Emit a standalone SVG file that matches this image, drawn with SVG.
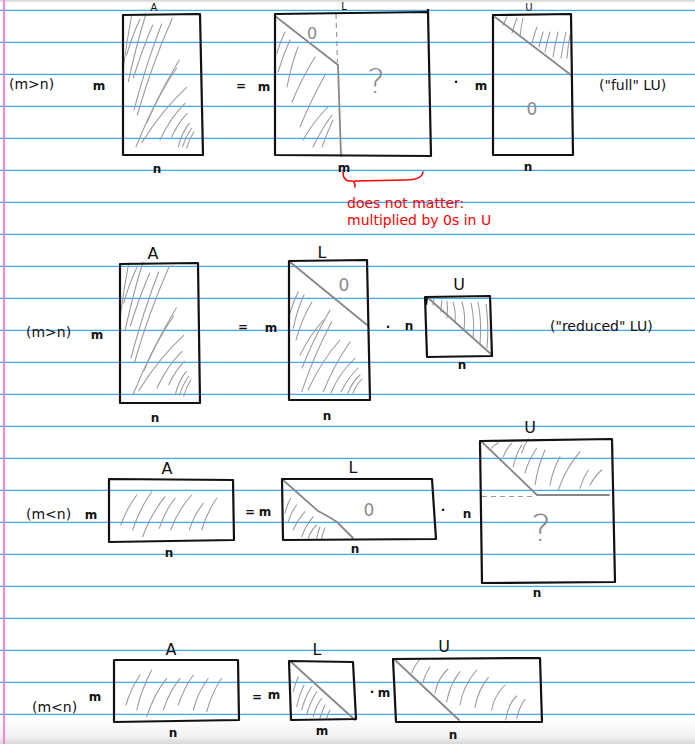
<svg xmlns="http://www.w3.org/2000/svg" width="695" height="744" viewBox="0 0 695 744">
<defs>
<style>
.rule{stroke:#47a6ff;stroke-width:1.3}
.margin{stroke:#ff6ad5;stroke-width:1.6}
.box{fill:none;stroke:#111;stroke-width:2.2;stroke-linejoin:round}
.diag{fill:none;stroke:#888;stroke-width:1.8;stroke-linecap:round}
.dash{fill:none;stroke:#999;stroke-width:1.2;stroke-dasharray:5 4}
.hatch{fill:none;stroke:#999;stroke-width:1.05;stroke-linecap:round}
.hw{font-family:"DejaVu Sans",sans-serif;fill:#111}
.dim{font-size:12px;font-weight:bold;text-anchor:middle}
.name{font-size:16px;text-anchor:middle}
.top{font-size:10px;text-anchor:middle}
.cond{font-size:14px}
.gz{font-family:"DejaVu Sans",sans-serif;fill:#8a8a8a;text-anchor:middle}
.note{font-family:"DejaVu Sans",sans-serif;font-size:14px;fill:#111}
.red{font-family:"DejaVu Sans",sans-serif;font-size:14px;fill:#ff0000}
</style>
<linearGradient id="bot" x1="0" y1="0" x2="0" y2="1">
<stop offset="0" stop-color="#ffffff"/>
<stop offset="0.7" stop-color="#f1f1f1"/>
<stop offset="1" stop-color="#d8d8d8"/>
</linearGradient>
<linearGradient id="topg" x1="0" y1="0" x2="0" y2="1">
<stop offset="0" stop-color="#d0d0d0"/>
<stop offset="1" stop-color="#ffffff"/>
</linearGradient>
<g id="hatchA1">
<path class="hatch" d="M123.5,66.7 Q127,40 131.7,15"/>
<path class="hatch" d="M126.7,55 Q132,36 140,19.3"/>
<path class="hatch" d="M128.3,81.7 Q136,46 146,14"/>
<path class="hatch" d="M133.3,78 Q142,50 152.7,25"/>
<path class="hatch" d="M134,110 Q146,64 161.7,24"/>
<path class="hatch" d="M137.3,115 Q152,64 172.3,18.3"/>
<path class="hatch" d="M136,146.7 Q155,100 179.3,60"/>
<path class="hatch" d="M146.7,123 Q160,92 176.7,68"/>
<path class="hatch" d="M141.7,142.7 Q162,110 186.7,87.3"/>
<path class="hatch" d="M160,140 Q170,118 185,103.3"/>
<path class="hatch" d="M171.7,136.7 Q178,123 187.3,113.3"/>
<path class="hatch" d="M178.3,146.7 Q182,132 189.3,123.3"/>
<path class="hatch" d="M182.7,146.7 Q186,136 191.7,128.3"/>
<path class="hatch" d="M186.7,148.3 Q189,139 194,131.7"/>
</g>
</defs>

<!-- paper -->
<rect x="0" y="0" width="695" height="744" fill="#ffffff"/>
<rect x="0" y="0" width="695" height="3" fill="url(#topg)"/>
<rect x="0" y="719" width="695" height="25" fill="url(#bot)"/>
<g id="ruling">
<line class="rule" x1="0" y1="10.3" x2="695" y2="10.3"/>
<line class="rule" x1="0" y1="42.3" x2="695" y2="42.3"/>
<line class="rule" x1="0" y1="74.3" x2="695" y2="74.3"/>
<line class="rule" x1="0" y1="106.3" x2="695" y2="106.3"/>
<line class="rule" x1="0" y1="138.3" x2="695" y2="138.3"/>
<line class="rule" x1="0" y1="170.3" x2="695" y2="170.3"/>
<line class="rule" x1="0" y1="202.3" x2="695" y2="202.3"/>
<line class="rule" x1="0" y1="234.3" x2="695" y2="234.3"/>
<line class="rule" x1="0" y1="266.3" x2="695" y2="266.3"/>
<line class="rule" x1="0" y1="298.3" x2="695" y2="298.3"/>
<line class="rule" x1="0" y1="330.3" x2="695" y2="330.3"/>
<line class="rule" x1="0" y1="362.3" x2="695" y2="362.3"/>
<line class="rule" x1="0" y1="394.3" x2="695" y2="394.3"/>
<line class="rule" x1="0" y1="426.3" x2="695" y2="426.3"/>
<line class="rule" x1="0" y1="458.3" x2="695" y2="458.3"/>
<line class="rule" x1="0" y1="490.3" x2="695" y2="490.3"/>
<line class="rule" x1="0" y1="522.3" x2="695" y2="522.3"/>
<line class="rule" x1="0" y1="554.3" x2="695" y2="554.3"/>
<line class="rule" x1="0" y1="586.3" x2="695" y2="586.3"/>
<line class="rule" x1="0" y1="618.3" x2="695" y2="618.3"/>
<line class="rule" x1="0" y1="650.3" x2="695" y2="650.3"/>
<line class="rule" x1="0" y1="682.3" x2="695" y2="682.3"/>
<line class="rule" x1="0" y1="714.3" x2="695" y2="714.3"/>
<line class="margin" x1="4" y1="0" x2="4" y2="744"/>
</g>

<!-- ===== Row 1: m>n full LU ===== -->
<g id="r1-labels" class="hw">
<text class="cond" x="9" y="89" font-size="15">(m&gt;n)</text>
<text class="dim" x="99" y="90">m</text>
<text class="dim" x="241" y="90" font-weight="normal">=</text>
<text class="dim" x="264" y="91">m</text>
<text class="dim" x="456" y="86">·</text>
<text class="dim" x="481" y="90">m</text>
</g>
<g id="r1-A">
<use href="#hatchA1"/>
<polygon class="box" points="123,15 200,14 203,155 123,155"/>
<text class="hw top" x="154" y="11">A</text>
<text class="hw dim" x="157" y="173">n</text>
</g>
<g id="r1-L">
<path class="hatch" d="M277,53 Q280,42 285,32"/>
<path class="hatch" d="M278,72 Q283,55 290,40"/>
<path class="hatch" d="M287,87 Q291,66 298,47"/>
<path class="hatch" d="M292,102 Q302,78 315,57"/>
<path class="hatch" d="M300,127 Q311,100 325,75"/>
<path class="hatch" d="M303,140 Q313,122 328,107"/>
<path class="hatch" d="M313,147 Q321,130 332,115"/>
<path class="hatch" d="M322,147 Q327,133 333,120"/>
<polyline class="diag" points="275,16 338,65 341,156"/>
<line class="dash" x1="336" y1="14" x2="337.5" y2="63"/>
<polygon class="box" points="275,14 428,12 431,156 275,155"/>
<line class="box" x1="428" y1="9" x2="428" y2="14"/>
<text class="gz" x="312" y="39" font-size="16">0</text>
<text class="gz" x="376" y="93" font-size="34" font-weight="200">?</text>
<text class="hw top" x="344" y="10">L</text>
<text class="hw dim" x="344" y="172">m</text>
</g>
<g id="r1-U">
<path class="hatch" d="M503,25 Q505,21 507,17"/>
<path class="hatch" d="M512,33 Q514,25 517,18"/>
<path class="hatch" d="M520,37 Q521,27 523,18"/>
<path class="hatch" d="M532,43 Q534,35 537,27"/>
<path class="hatch" d="M539,47 Q541,39 543,32"/>
<path class="hatch" d="M545,52 Q547,42 550,32"/>
<path class="hatch" d="M553,57 Q555,44 558,32"/>
<path class="hatch" d="M561,58 Q563,45 566,32"/>
<path class="hatch" d="M567,58 Q568,46 570,35"/>
<line class="diag" x1="495" y1="17" x2="571" y2="75"/>
<polygon class="box" points="493,15 571,14 573,155 493,155"/>
<text class="gz" x="532" y="115" font-size="17">0</text>
<text class="hw top" x="529" y="11">U</text>
<text class="hw dim" x="528" y="171">n</text>
</g>
<g id="r1-note">
<text class="note" x="599" y="90">("full" LU)</text>
</g>
<g id="annotations">
<path d="M343,172 Q343,181 350,181 L352,181 Q355,181 355,187 M355,181 L405,180 Q422,180 423,172" fill="none" stroke="#ff0000" stroke-width="1.6" stroke-linecap="round"/>
<text class="red" x="347" y="208">does not matter:</text>
<text class="red" x="347" y="225">multiplied by 0s in U</text>
</g>

<!-- ===== Row 2: m>n reduced LU ===== -->
<g id="r2-labels" class="hw">
<text class="cond" x="26" y="337" font-size="13">(m&gt;n)</text>
<text class="dim" x="97" y="339">m</text>
<text class="dim" x="243" y="331" font-weight="normal">=</text>
<text class="dim" x="271" y="332">m</text>
<text class="dim" x="388" y="331">·</text>
<text class="dim" x="409" y="330">n</text>
</g>
<g id="r2-A">
<use href="#hatchA1" transform="translate(-3,248)"/>
<polygon class="box" points="120,264 198,263 200,403 120,403"/>
<text class="hw name" x="153" y="259" font-size="17">A</text>
<text class="hw dim" x="155" y="422">n</text>
</g>
<g id="r2-L">
<path class="hatch" d="M290,313 Q293,302 298.3,291.7"/>
<path class="hatch" d="M293.3,328.3 Q297,310 304,295"/>
<path class="hatch" d="M296,340 Q302,318 312,302"/>
<path class="hatch" d="M300,355 Q310,335 323.3,320"/>
<path class="hatch" d="M302,368 Q313,340 330,310"/>
<path class="hatch" d="M301.7,391.7 Q314,355 331.7,321.7"/>
<path class="hatch" d="M308,390 Q322,360 340,340"/>
<path class="hatch" d="M323.3,391.7 Q334,365 350,341.7"/>
<path class="hatch" d="M331,393 Q338,375 355,358"/>
<path class="hatch" d="M341,392 Q348,378 358,368"/>
<path class="hatch" d="M348,393 Q352,382 360,375"/>
<path class="hatch" d="M353,393 Q356,385 362,379"/>
<line class="diag" x1="290" y1="262" x2="367" y2="325"/>
<polygon class="box" points="289,261 367,260 370,400 289,400"/>
<text class="gz" x="344" y="291" font-size="17">0</text>
<text class="hw name" x="322" y="258" font-size="15">L</text>
<text class="hw dim" x="327" y="420">n</text>
</g>
<g id="r2-U">
<path class="hatch" d="M433,305 Q433,302 434,299"/>
<path class="hatch" d="M441,312 Q441,306 442,300"/>
<path class="hatch" d="M447,318 Q448,309 447,301"/>
<path class="hatch" d="M455,322 Q456,311 453,302"/>
<path class="hatch" d="M464,330 Q466,315 462,302"/>
<path class="hatch" d="M473,338 Q475,320 471,303"/>
<path class="hatch" d="M480,344 Q482,322 478,302"/>
<path class="hatch" d="M487,348 Q489,326 486,304"/>
<line class="diag" x1="427" y1="297" x2="492" y2="355"/>
<polygon class="box" points="425,297 490,296 492,356 427,357"/>
<line class="box" x1="427" y1="297" x2="426" y2="305"/>
<text class="hw name" x="459" y="290" font-size="15">U</text>
<text class="hw dim" x="462" y="369">n</text>
</g>
<g id="r2-note">
<text class="note" x="550" y="331">("reduced" LU)</text>
</g>

<!-- ===== Row 3: m<n ===== -->
<g id="r3-labels" class="hw">
<text class="cond" x="26" y="519" font-size="15">(m&lt;n)</text>
<text class="dim" x="91" y="519" font-size="11">m</text>
<text class="dim" x="250" y="516" font-weight="normal">=</text>
<text class="dim" x="265" y="516">m</text>
<text class="dim" x="443" y="514">·</text>
<text class="dim" x="467" y="518">n</text>
</g>
<g id="r3-A">
<path class="hatch" d="M120.7,525 Q127,508 136.7,495"/>
<path class="hatch" d="M132.7,530 Q140,508 151.7,491.7"/>
<path class="hatch" d="M142.7,536.7 Q151,514 165,496.7"/>
<path class="hatch" d="M159.3,528.3 Q165,511 175,498.3"/>
<path class="hatch" d="M170.7,530 Q178,510 191.7,495"/>
<path class="hatch" d="M189.3,530 Q194,515 203.3,503.3"/>
<path class="hatch" d="M201.7,530 Q207,512 216.7,498.3"/>
<polygon class="box" points="109,479 233,480 234,540 109,542"/>
<text class="hw name" x="167" y="474" font-size="17">A</text>
<text class="hw dim" x="169" y="557">n</text>
</g>
<g id="r3-L">
<path class="hatch" d="M285,513.3 Q287,505 290.7,498.3"/>
<path class="hatch" d="M288.3,521.7 Q291,512 296.7,505"/>
<path class="hatch" d="M293.3,530 Q298,519 305,511.7"/>
<path class="hatch" d="M301.7,536.7 Q306,525 313.3,516.7"/>
<path class="hatch" d="M308.3,538.3 Q311,530 316.7,525"/>
<path class="hatch" d="M316.7,538.3 Q318,532 320,526.7"/>
<path class="hatch" d="M321.7,538.3 Q323,532 325,527.7"/>
<path class="diag" d="M283,480 L318,511 Q326,515 337,522 L353,538"/>
<polygon class="box" points="282,479 432,479 436,539 283,540"/>
<text class="gz" x="369" y="516" font-size="17">0</text>
<text class="hw name" x="353" y="473" font-size="15">L</text>
<text class="hw dim" x="355" y="553">n</text>
</g>
<g id="r3-U">
<path class="hatch" d="M491.7,448.3 Q494,445 498.3,442.7"/>
<path class="hatch" d="M503.3,456.7 Q506,449 511.7,443.3"/>
<path class="hatch" d="M513.3,466.7 Q516,454 521.7,445"/>
<path class="hatch" d="M521.7,453 Q524,445 528.3,439"/>
<path class="hatch" d="M525,473 Q529,459 536.7,448.3"/>
<path class="hatch" d="M535,485 Q538,466 545,450"/>
<path class="hatch" d="M550,485 Q553,469 560,456.7"/>
<path class="hatch" d="M558.3,490 Q566,468 580,451.7"/>
<path class="hatch" d="M580,488.3 Q583,478 588.3,470"/>
<path class="hatch" d="M590,485 Q595,476 601.7,470"/>
<polyline class="diag" points="482,442 537,495 609,495"/>
<line class="dash" x1="482" y1="496.5" x2="535" y2="496.5" stroke-dasharray="4 3"/>
<polygon class="box" points="480,441 612,439 615,582 482,583"/>
<text class="gz" x="541" y="541" font-size="38" font-weight="200">?</text>
<text class="hw name" x="530" y="433" font-size="14">U</text>
<text class="hw dim" x="537" y="597">n</text>
</g>

<!-- ===== Row 4: m<n ===== -->
<g id="r4-labels" class="hw">
<text class="cond" x="32" y="712" font-size="15">(m&lt;n)</text>
<text class="dim" x="95" y="701" font-size="10">m</text>
<text class="dim" x="257" y="701" font-weight="normal">=</text>
<text class="dim" x="274" y="699">m</text>
<text class="dim" x="372" y="696">·</text>
<text class="dim" x="384" y="697" font-size="10">m</text>
</g>
<g id="r4-A">
<path class="hatch" d="M126,705 Q131,688 140,675"/>
<path class="hatch" d="M136.7,710 Q142,688 151.7,670"/>
<path class="hatch" d="M146.7,716.7 Q154,694 166.7,678.3"/>
<path class="hatch" d="M163.3,710 Q169,692 180,678.3"/>
<path class="hatch" d="M178.3,705 Q184,688 193.3,675"/>
<path class="hatch" d="M193.3,710 Q198,692 208.3,678.3"/>
<path class="hatch" d="M206.7,711.7 Q212,692 221.7,678.3"/>
<polygon class="box" points="114,660 238,660 239,720 114,722"/>
<text class="hw name" x="171" y="655" font-size="17">A</text>
<text class="hw dim" x="173" y="737">n</text>
</g>
<g id="r4-L">
<path class="hatch" d="M293.3,691.7 Q295,684 298.3,676.7"/>
<path class="hatch" d="M296.7,706.7 Q299,695 304,685"/>
<path class="hatch" d="M301.7,710 Q305,697 311.7,686.7"/>
<path class="hatch" d="M306.7,715 Q310,702 316.7,691.7"/>
<path class="hatch" d="M313.3,716.7 Q316,706 321.7,698.3"/>
<path class="hatch" d="M320,718 Q322,711 325,705"/>
<path class="hatch" d="M326.7,718 Q328,713 330,710"/>
<line class="diag" x1="290" y1="661" x2="355" y2="720"/>
<polygon class="box" points="289,661 353,662 356,719 291,720"/>
<text class="hw name" x="317" y="655" font-size="15">L</text>
<text class="hw dim" x="322" y="735">m</text>
</g>
<g id="r4-U">
<path class="hatch" d="M411.7,673 Q414,666 419.3,660"/>
<path class="hatch" d="M423,683 Q425,674 430,667"/>
<path class="hatch" d="M435,693 Q438,678 448,669"/>
<path class="hatch" d="M446.7,701.7 Q450,684 460,671.7"/>
<path class="hatch" d="M460,705 Q463,686 476.7,670"/>
<path class="hatch" d="M475,707.3 Q478,690 488.3,677.3"/>
<path class="hatch" d="M491.7,710 Q494,696 505,685"/>
<path class="hatch" d="M505.7,720 Q508,704 516.7,696"/>
<path class="hatch" d="M516.7,718.3 Q520,705 525,699.3"/>
<line class="diag" x1="395" y1="660" x2="459" y2="720"/>
<polygon class="box" points="393,659 540,658 542,722 396,722"/>
<text class="hw name" x="444" y="652" font-size="15">U</text>
<text class="hw dim" x="453" y="739">n</text>
</g>

<g id="connectors"></g>
</svg>
